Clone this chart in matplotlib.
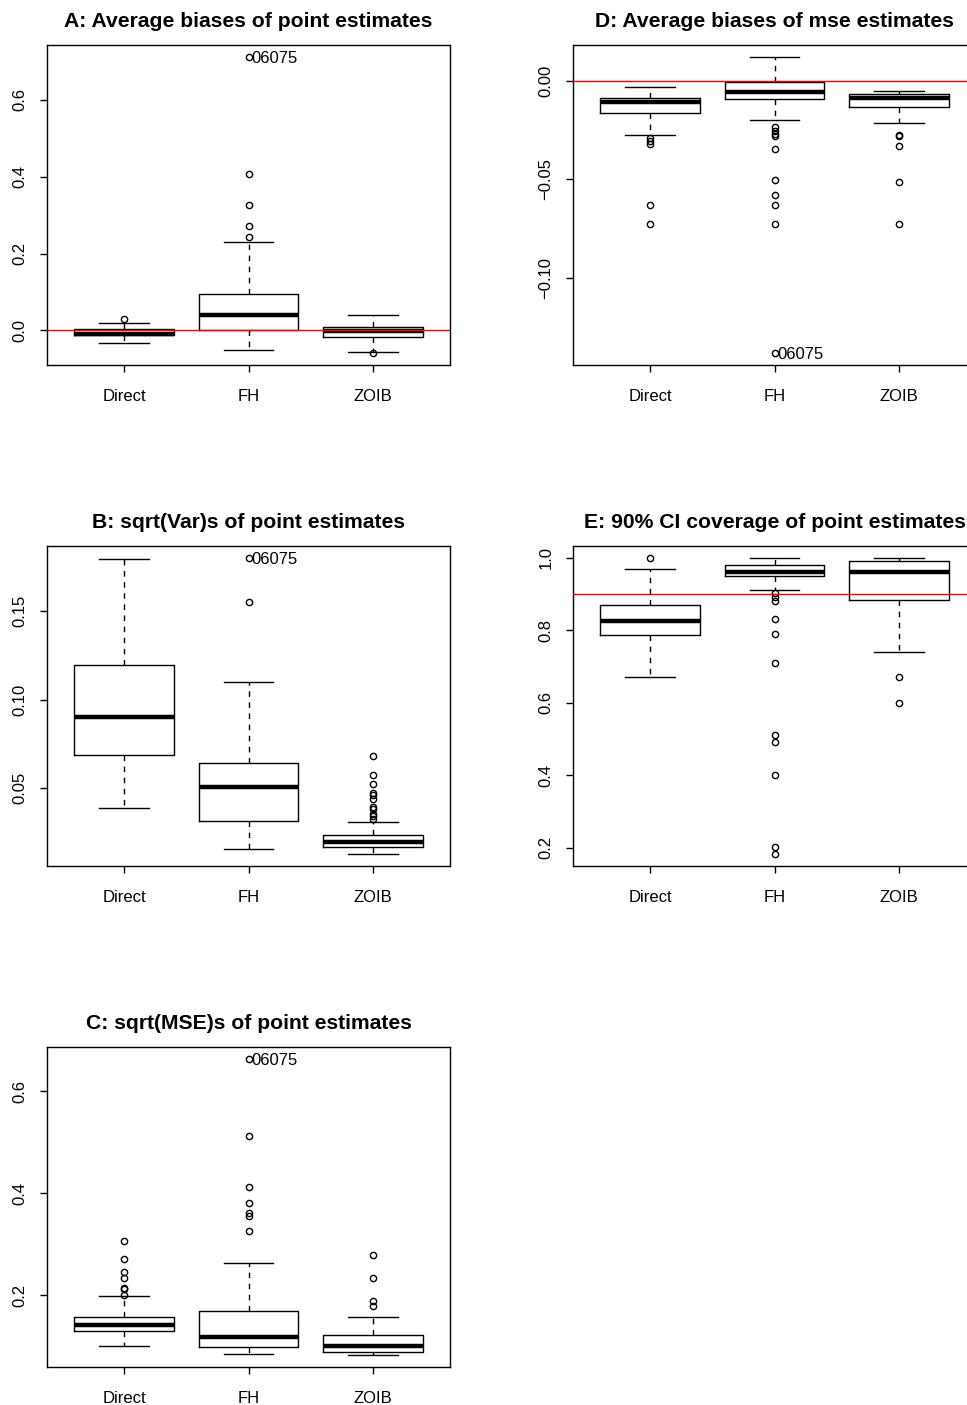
import numpy as np
import matplotlib
matplotlib.use('Agg')
import matplotlib.pyplot as plt

plt.rcParams['font.family'] = ['Liberation Sans', 'DejaVu Sans']

methods = ['Direct', 'FH', 'ZOIB']
flag_id = '06075'

# (lower whisker, q1, median, q3, upper whisker) per method
a_stats = [(-0.033, -0.013, -0.008, 0.0035, 0.019),
           (-0.050, 0.002, 0.039, 0.096, 0.229),
           (-0.056, -0.017, -0.002, 0.009, 0.040)]
a_out = [[0.031],
         [0.244, 0.272, 0.326, 0.408, 0.712],
         [-0.059]]
a_flag = 0.712

d_stats = [(-0.0277, -0.0163, -0.011, -0.0087, -0.0034),
           (-0.0201, -0.0095, -0.0056, -0.0009, 0.0121),
           (-0.0214, -0.0133, -0.0087, -0.0068, -0.0054)]
d_out = [[-0.029, -0.0306, -0.032, -0.0629, -0.0728],
         [-0.0235, -0.0255, -0.0269, -0.028, -0.0349, -0.0505, -0.0582,
          -0.0633, -0.0728, -0.1383],
         [-0.0277, -0.028, -0.0332, -0.0512, -0.0728]]
d_flag = -0.1383

b_stats = [(0.039, 0.0689, 0.0903, 0.1195, 0.1792),
           (0.0157, 0.0314, 0.0506, 0.064, 0.110),
           (0.0127, 0.017, 0.0195, 0.0233, 0.0309)]
b_out = [[],
         [0.155, 0.180],
         [0.0328, 0.0341, 0.0356, 0.0384, 0.0394, 0.0441, 0.046, 0.0475,
          0.0523, 0.0574, 0.0684]]
b_flag = 0.180

e_stats = [(0.671, 0.787, 0.827, 0.870, 0.969),
           (0.910, 0.951, 0.960, 0.980, 1.0),
           (0.740, 0.884, 0.960, 0.990, 1.0)]
e_out = [[1.0],
         [0.902, 0.891, 0.881, 0.831, 0.790, 0.710, 0.511, 0.491, 0.401,
          0.201, 0.182],
         [0.670, 0.600]]

c_stats = [(0.101, 0.130, 0.143, 0.158, 0.199),
           (0.0855, 0.099, 0.118, 0.170, 0.264),
           (0.083, 0.090, 0.100, 0.122, 0.157)]
c_out = [[0.200, 0.212, 0.215, 0.234, 0.247, 0.271, 0.306],
         [0.326, 0.355, 0.362, 0.381, 0.412, 0.513, 0.664],
         [0.180, 0.189, 0.234, 0.279]]
c_flag = 0.664

W, H = 967, 1405
fig = plt.figure(figsize=(W / 100, H / 100), dpi=100)


def add_ax(left, top, w=403, h=320):
    return fig.add_axes([left / W, (H - top - h) / H, w / W, h / H])


def panel(ax, title, stats, outs, yticks, fmt, ref=None, flag=None):
    bx = []
    for (lo, q1, med, q3, hi), fl in zip(stats, outs):
        bx.append(dict(whislo=lo, q1=q1, med=med, q3=q3, whishi=hi, fliers=fl))
    ax.bxp(bx, positions=[1, 2, 3], widths=0.8, capwidths=0.4,
           boxprops=dict(color='black', lw=1.0),
           medianprops=dict(color='black', lw=3.2, solid_capstyle='butt'),
           whiskerprops=dict(color='black', lw=1.0, linestyle=(0, (4, 4))),
           capprops=dict(color='black', lw=1.0),
           flierprops=dict(marker='o', mfc='none', mec='black', ms=4.5, mew=1.0))
    vals = [v for s in stats for v in s] + [v for o in outs for v in o]
    lo, hi = min(vals), max(vals)
    pad = 0.04 * (hi - lo)
    ax.set_ylim(lo - pad, hi + pad)
    ax.set_xlim(0.38, 3.62)
    if ref is not None:
        ax.axhline(ref, color='red', lw=1.0, zorder=5)
    if flag is not None:
        ax.text(2.025, flag, flag_id, ha='left', va='center_baseline', fontsize=12)
    ax.set_xticks([1, 2, 3])
    ax.set_xticklabels(methods)
    ax.set_yticks(yticks)
    ax.set_yticklabels([fmt.format(t).replace('-', '\u2212') for t in yticks],
                       rotation=90, va='center')
    ax.tick_params(direction='out', length=5, width=1, labelsize=12)
    ax.tick_params(axis='x', pad=12)
    ax.tick_params(axis='y', pad=9)
    for s in ax.spines.values():
        s.set_linewidth(1.0)
    ax.set_title(title, fontsize=15.2, fontweight='bold', pad=13)


ax = add_ax(47, 45)
panel(ax, 'A: Average biases of point estimates', a_stats, a_out,
      [0.0, 0.2, 0.4, 0.6], '{:.1f}', ref=0.0, flag=a_flag)

ax = add_ax(573, 45)
panel(ax, 'D: Average biases of mse estimates', d_stats, d_out,
      [0.0, -0.05, -0.10], '{:.2f}', ref=0.0, flag=d_flag)

ax = add_ax(47, 546)
panel(ax, 'B: sqrt(Var)s of point estimates', b_stats, b_out,
      [0.05, 0.10, 0.15], '{:.2f}', flag=b_flag)

ax = add_ax(573, 546)
panel(ax, 'E: 90% CI coverage of point estimates', e_stats, e_out,
      [0.2, 0.4, 0.6, 0.8, 1.0], '{:.1f}', ref=0.9)

ax = add_ax(47, 1047)
panel(ax, 'C: sqrt(MSE)s of point estimates', c_stats, c_out,
      [0.2, 0.4, 0.6], '{:.1f}', flag=c_flag)

fig.savefig('out.png', dpi=100)
